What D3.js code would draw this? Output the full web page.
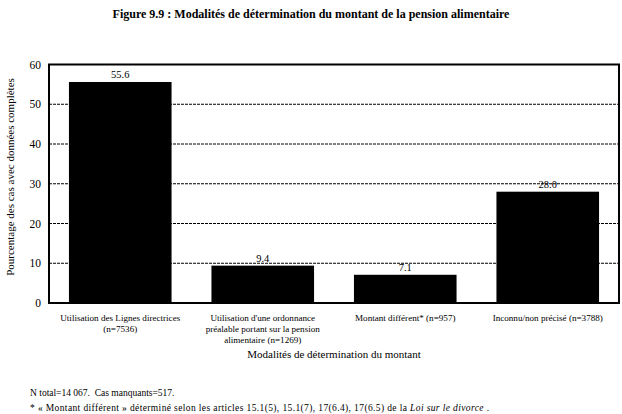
<!DOCTYPE html>
<html><head><meta charset="utf-8">
<script src="https://cdn.jsdelivr.net/npm/d3@7"></script>
<style>body{margin:0;background:#fff}svg{display:block}</style>
</head><body><svg id="c" width="622" height="414"></svg>
<script>
const categories = [
  ["Utilisation des Lignes directrices", "(n=7536)"],
  ["Utilisation d'une ordonnance", "préalable portant sur la pension", "alimentaire (n=1269)"],
  ["Montant différent* (n=957)"],
  ["Inconnu/non précisé (n=3788)"]
];
const values = [55.6, 9.4, 7.1, 28.0];
const yTicks = [0, 10, 20, 30, 40, 50, 60];
const title = "Figure 9.9 : Modalités de détermination du montant de la pension alimentaire";
const xTitle = "Modalités de détermination du montant";
const yTitle = "Pourcentage des cas avec données complètes";

const FONT = "Liberation Serif, Tinos, Times New Roman, Times, DejaVu Serif, serif";
const svg = d3.select("#c").attr("font-family", FONT);
const L = 49, R = 619, T = 64.5, B = 303;
const x = d3.scaleBand().domain(d3.range(values.length)).range([L, R]).paddingInner(0.28).paddingOuter(0.14);
const y = d3.scaleLinear().domain([0, 60]).range([B, T]);

svg.append("text").attr("x", 311).attr("y", 18).attr("text-anchor", "middle")
  .attr("font-size", 12).attr("font-weight", "bold").text(title);

// gridlines
svg.append("g").selectAll("line").data(yTicks.filter(d => d > 0 && d < 60)).join("line")
  .attr("x1", L).attr("x2", R).attr("y1", d => y(d)).attr("y2", d => y(d))
  .attr("stroke", "#000").attr("stroke-width", 1).attr("stroke-dasharray", "3,1");

// bars
svg.append("g").selectAll("rect").data(values).join("rect")
  .attr("x", (d, i) => x(i)).attr("width", x.bandwidth())
  .attr("y", d => y(d)).attr("height", d => B - y(d)).attr("fill", "#000");

// frame
svg.append("rect").attr("x", L).attr("y", T).attr("width", R - L).attr("height", B - T)
  .attr("fill", "none").attr("stroke", "#000").attr("stroke-width", 2);

// value labels
svg.append("g").selectAll("text").data(values).join("text")
  .attr("x", (d, i) => x(i) + x.bandwidth() / 2).attr("y", d => y(d) - 4)
  .attr("text-anchor", "middle").attr("font-size", 10.5).text(d => d.toFixed(1));

// y axis
const yAxis = d3.axisLeft(y).tickValues(yTicks).tickSize(0).tickPadding(8).tickFormat(d3.format("d"));
const ga = svg.append("g").attr("transform", `translate(${L},0)`).call(yAxis).attr("font-family", FONT).attr("font-size", 11.5);
ga.select(".domain").remove();
ga.selectAll("text").attr("fill", "#000");

svg.append("text").attr("transform", `translate(14,177) rotate(-90)`)
  .attr("text-anchor", "middle").attr("font-size", 11).text(yTitle);

// category labels
const cg = svg.append("g").selectAll("text").data(categories).join("text")
  .attr("text-anchor", "middle").attr("font-size", 9.1)
  .attr("transform", (d, i) => `translate(${x(i) + x.bandwidth() / 2},321)`);
cg.selectAll("tspan").data(d => d).join("tspan")
  .attr("x", 0).attr("y", (d, j) => j * 10.8).text(d => d);

svg.append("text").attr("x", (L + R) / 2).attr("y", 358).attr("text-anchor", "middle")
  .attr("font-size", 11).text(xTitle);

svg.append("text").attr("x", 30).attr("y", 396).attr("font-size", 9.5)
  .attr("xml:space", "preserve").text("N total=14 067.  Cas manquants=517.");
const fn = svg.append("text").attr("x", 30).attr("y", 411).attr("font-size", 9.5).attr("letter-spacing", 0.38);
fn.append("tspan").text("* « Montant différent » déterminé selon les articles 15.1(5), 15.1(7), 17(6.4), 17(6.5) de la ");
fn.append("tspan").attr("font-style", "italic").text("Loi sur le divorce");
fn.append("tspan").text(" .");
</script></body></html>
